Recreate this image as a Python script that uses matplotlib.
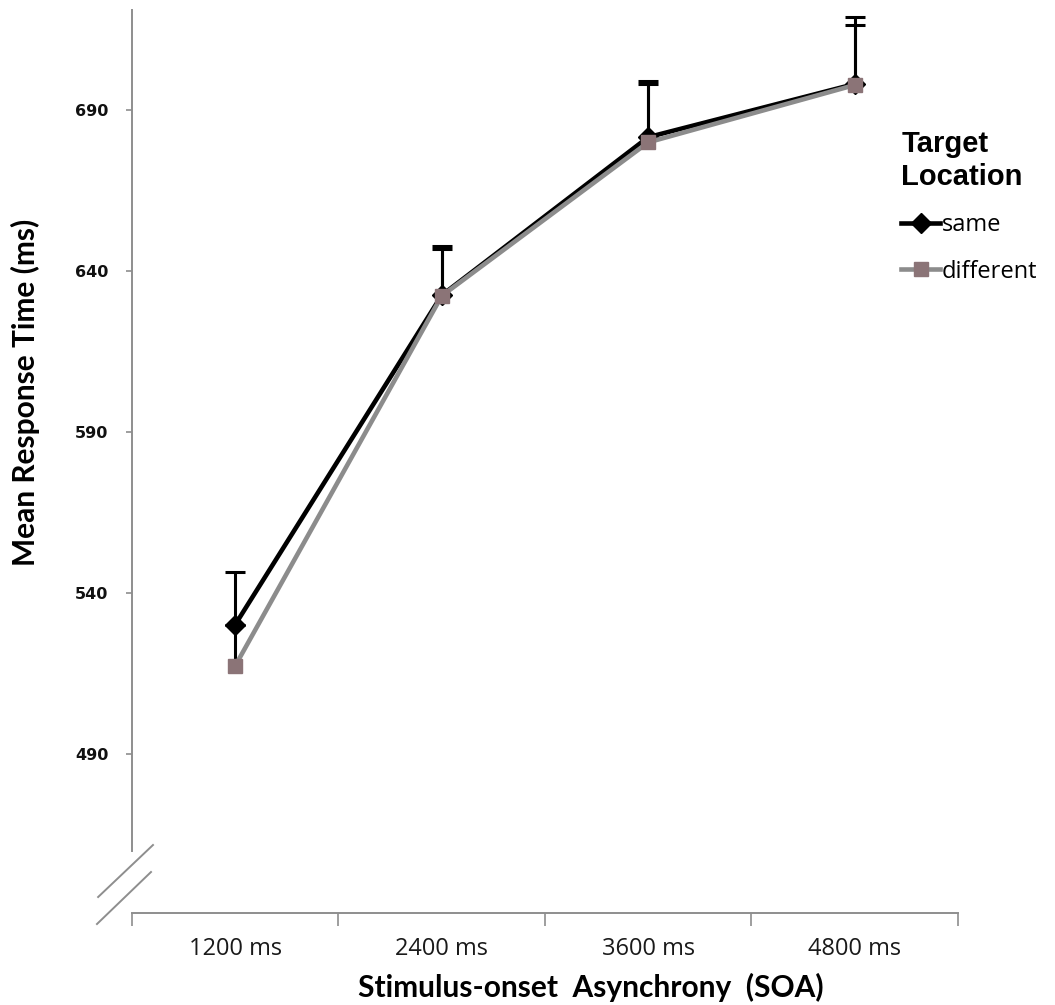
import matplotlib
matplotlib.use("Agg")
import matplotlib.pyplot as plt
from matplotlib.lines import Line2D

# Mean response times (ms) by SOA and target location
soa_labels = ["1200 ms", "2400 ms", "3600 ms", "4800 ms"]
same_rt = [530.2, 632.5, 681.6, 698.1]
same_err = [16.3, 15.3, 17.4, 20.8]
different_rt = [517.4, 632.3, 680.0, 697.8]
different_err = [12.8, 14.6, 18.0, 18.6]
y_ticks = [490, 540, 590, 640, 690]

fig = plt.figure(figsize=(10.55, 10.05), dpi=100)
ax = fig.add_axes([132 / 1055, 92 / 1005, 826 / 1055, 903 / 1005])

x = list(range(1, len(soa_labels) + 1))
axis_grey = "#8e8e8e"


def upper_errorbars(values, errs):
    """Error bars that only extend above the mean, with a cap on top."""
    _, caps, _ = ax.errorbar(x, values, yerr=[[0] * len(values), errs],
                             fmt="none", ecolor="black", elinewidth=2.2,
                             capsize=7, capthick=2.2, zorder=2)
    for cap in caps:
        if list(cap.get_ydata()) == list(values):
            cap.set_visible(False)


upper_errorbars(same_rt, same_err)
upper_errorbars(different_rt, different_err)

ax.plot(x, same_rt, color="black", lw=3.3, marker="D", ms=10.5,
        mfc="black", mec="black", label="same", zorder=3)
ax.plot(x, different_rt, color="#8c8c8c", lw=3.3, marker="s", ms=10,
        mfc="#8b7477", mec="#8b7477", label="different", zorder=4)

ax.set_xlim(0.5, 4.5)
ax.set_ylim(440.6, 721.1)

# spines
for s in ["top", "right"]:
    ax.spines[s].set_visible(False)
for s in ["left", "bottom"]:
    ax.spines[s].set_color(axis_grey)
    ax.spines[s].set_linewidth(1.4)
ax.spines["left"].set_bounds(459.8, 721.1)

# y ticks
ax.set_yticks(y_ticks)
ax.set_yticklabels([str(v) for v in y_ticks], fontsize=11.5, fontweight="bold",
                   family="DejaVu Sans", color="#111111")
ax.tick_params(axis="y", direction="out", length=4, width=1.2, color=axis_grey,
               pad=13)

# x ticks at category boundaries, labels at centers
ax.set_xticks([0.5, 1.5, 2.5, 3.5, 4.5])
ax.set_xticklabels([])
ax.set_xticks(x, minor=True)
ax.set_xticklabels(soa_labels, minor=True, fontsize=17, family="Open Sans",
                   color="#1a1a1a")
ax.tick_params(axis="x", which="major", direction="out", length=9, width=1.2,
               color=axis_grey)
ax.tick_params(axis="x", which="minor", length=0, pad=17)

# axis break marks
for (x0, y0, x1, y1) in [(-0.041, 0.0177, 0.0254, 0.0753),
                         (-0.0424, -0.0122, 0.023, 0.0454)]:
    ax.add_line(Line2D([x0, x1], [y0, y1], transform=ax.transAxes,
                       color=axis_grey, lw=1.4, clip_on=False))

ax.set_ylabel("Mean Response Time (ms)", fontsize=21.5, fontweight="bold",
              family="Lato")
ax.yaxis.set_label_coords(-0.111, 0.577)
ax.set_xlabel("Stimulus-onset  Asynchrony  (SOA)", fontsize=21.5,
              fontweight="bold", family="Lato")
ax.xaxis.set_label_coords(0.556, -0.066)

leg = ax.legend(loc="upper left", bbox_to_anchor=(0.9115, 0.885),
                frameon=False, title="Target\nLocation",
                handlelength=1.65, handletextpad=0.05, labelspacing=0.95,
                borderpad=0.2, alignment="left",
                prop={"family": "Open Sans", "size": 17})
leg.get_title().set_fontsize(21)
leg.get_title().set_fontweight("bold")
leg.get_title().set_family("Liberation Sans")
leg.get_title().set_linespacing(1.2)

fig.savefig("out.png", dpi=100, facecolor="white")
